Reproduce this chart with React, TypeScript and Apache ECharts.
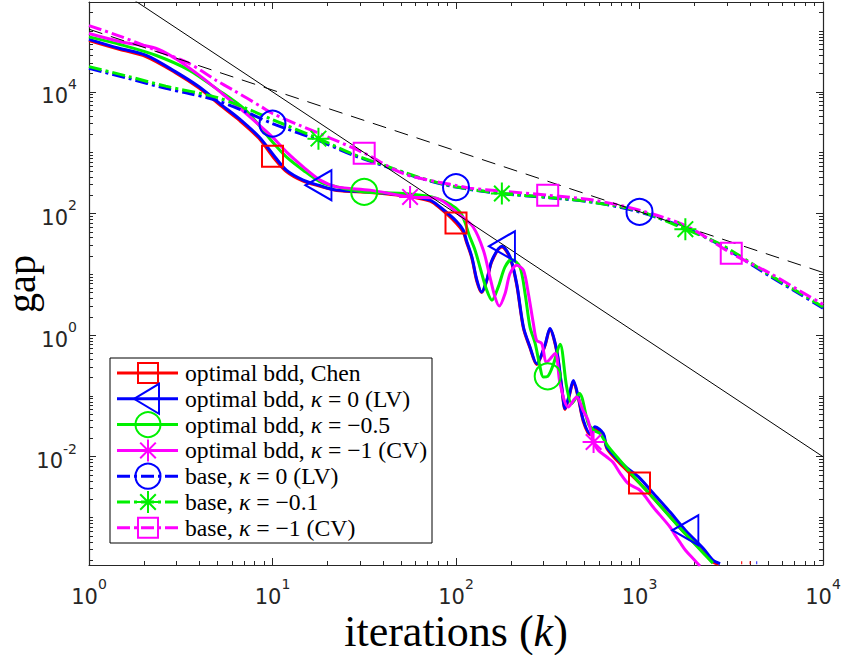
import { useEffect, useRef } from "react";
import * as echarts from "echarts";

// ---- iteration counts (k) and gap values, one pair of arrays per run ----

// optimal bdd, Chen
const chenK = [1, 1.46, 2.04, 2.97, 3.98, 5.31, 6.56, 8.44, 10, 11.9, 14.7, 17.8, 22.4, 34, 51.4, 72.1, 81.8, 100, 109.6, 114, 122, 130, 138, 147, 157, 178, 197, 214, 233, 253, 275, 305, 325, 354, 377, 393, 413, 436, 464, 494, 538, 572, 635, 663, 751, 851, 1000, 1189, 1468, 1778, 2228, 2512, 2700, 2900, 3580, 3630, 3700, 3980, 4030];
const chenGap = [7.0e4, 5.0e4, 3.8e4, 2.05e4, 1.15e4, 5.7e3, 3.45e3, 1.72e3, 870, 490, 340, 285, 238, 222, 196, 160, 122, 70, 49, 34, 18.5, 7.6, 5.0, 7.8, 16.5, 28, 18.5, 6.8, 1.3, 0.62, 0.33, 0.66, 1.25, 0.54, 0.135, 0.06, 0.097, 0.17, 0.092, 0.038, 0.023, 0.029, 0.023, 0.0138, 0.0088, 0.006, 0.0037, 0.0021, 0.00104, 5.4e-4, 2.7e-4, 1.85e-4, 1.7e-4, null, 1.8e-4, 1.8e-4, null, 1.8e-4, 1.8e-4];
const chenMarkK = [10, 100, 1000];

// optimal bdd, kappa = 0 (LV)
const lvK = [1, 1.46, 2.04, 2.97, 3.98, 5.31, 6.56, 8.44, 10, 11.9, 14.7, 17.8, 22.4, 34, 51.4, 72.1, 81.8, 100, 109.6, 114, 122, 130, 138, 147, 157, 178, 197, 214, 233, 253, 275, 305, 325, 354, 377, 393, 413, 436, 464, 494, 538, 572, 635, 663, 751, 851, 1000, 1189, 1468, 1778, 2228, 2512, 2750, 2900, 4330, 4380];
const lvGap = [7.3e4, 5.2e4, 4.0e4, 2.13e4, 1.21e4, 6.0e3, 3.65e3, 1.82e3, 960, 515, 353, 292, 242, 226, 200, 166, 128, 76, 53, 36, 19.3, 8.0, 5.1, 8.0, 17, 29, 19.3, 7.1, 1.36, 0.64, 0.34, 0.68, 1.29, 0.56, 0.14, 0.062, 0.10, 0.18, 0.096, 0.040, 0.024, 0.031, 0.024, 0.0145, 0.0095, 0.0066, 0.0045, 0.0025, 0.00123, 6.2e-4, 3.1e-4, 2.0e-4, 1.75e-4, null, 1.8e-4, 1.8e-4];
const lvMarkK = [17.8, 178, 1778];

// optimal bdd, kappa = -0.5
const halfK = [1, 1.51, 2.31, 3.51, 4.9, 7.14, 10, 11.9, 14.7, 18.2, 22.4, 31.6, 51.4, 78.5, 105, 119, 127, 135, 147, 157, 170, 185, 201, 223, 238, 253, 270, 287, 299, 316, 338, 369, 401, 427, 470, 526, 565, 609, 673, 783, 1000, 1189, 1468, 1807, 2228, 2512, 2700, 4690, 4730, 4800, 4940, 4980];
const halfGap = [8.0e4, 5.9e4, 4.0e4, 2.28e4, 1.15e4, 5.0e3, 1.5e3, 853, 515, 331, 274, 226, 213, 177, 106, 41, 24.9, 13.2, 5.5, 3.75, 6.2, 13.2, 17.5, 13.2, 4.8, 1.36, 0.73, 0.30, 0.205, 0.21, 0.32, 0.71, 0.14, 0.075, 0.11, 0.035, 0.027, 0.024, 0.0149, 0.0087, 0.0037, 0.0021, 0.00102, 5.1e-4, 2.6e-4, 1.78e-4, null, 1.8e-4, 1.8e-4, null, 1.8e-4, 1.8e-4];
const halfMarkK = [31.6, 316];

// optimal bdd, kappa = -1 (CV)
const cvK = [1, 1.51, 2.31, 2.97, 3.98, 5.31, 6.82, 10, 11.9, 14.7, 18.2, 22.4, 34, 56.2, 78.5, 105, 124, 141, 153, 163, 172, 185, 197, 214, 233, 248, 264, 275, 293, 312, 347, 369, 409, 455, 492, 524, 562, 596, 663, 717, 783, 869, 1007, 1189, 1466, 1560, 1663, 1780, 1964, 2136];
const cvGap = [9.1e4, 6.6e4, 5.2e4, 3.5e4, 1.88e4, 9.4e3, 5.0e3, 1.8e3, 1.03e3, 583, 353, 274, 242, 187, 177, 94, 60, 24.9, 9.1, 4.25, 3.0, 4.8, 10.3, 14.1, 11.7, 4.8, 1.55, 0.82, 0.73, 0.36, 0.50, 0.16, 0.066, 0.096, 0.058, 0.040, 0.0175, 0.0128, 0.0099, 0.0081, 0.0054, 0.0036, 0.0028, 0.00148, 7.0e-4, 5.2e-4, 3.9e-4, 2.9e-4, 2.1e-4, 1.6e-4];
const cvMarkK = [56.2, 562];

// base, kappa = 0 (LV)
const baseLvK = [1, 1.65, 2.62, 3.51, 4.9, 7.14, 10, 16.6, 27.5, 41.9, 63.6, 100, 177, 317, 558, 1000, 1807, 2754, 5140, 7500, 10000];
const baseLvGap = [2.43e4, 1.66e4, 1.14e4, 9.4e3, 7.3e3, 4.7e3, 3.0e3, 1.73e3, 910, 583, 381, 271, 213, 182, 153, 106, 56.6, 30.1, 9.3, 4.7, 2.77];
const baseLvMarkK = [10, 100, 1000];

// base, kappa = -0.1
const baseMildK = [1, 1.65, 2.62, 4.9, 7.14, 10, 17.8, 27.5, 41.9, 63.6, 100, 177.8, 317, 558, 1000, 1778, 2754, 5140, 7500, 10000];
const baseMildGap = [2.6e4, 1.78e4, 1.24e4, 8.2e3, 5.4e3, 3.5e3, 1.7e3, 944, 600, 388, 275, 213, 185, 153, 109, 55.2, 31.3, 9.7, 4.9, 2.9];
const baseMildMarkK = [17.8, 177.8, 1778];

// base, kappa = -1 (CV)
const baseCvK = [1, 1.51, 2.31, 3.51, 4.9, 6.1, 8.77, 10, 14.1, 20.6, 31.6, 51.4, 78.7, 100, 119, 177.8, 316, 558, 1000, 1807, 3162, 5140, 7500, 10000];
const baseCvGap = [1.23e5, 8.0e4, 4.85e4, 2.93e4, 1.56e4, 1.07e4, 5.6e3, 4.4e3, 2.8e3, 1.74e3, 982, 455, 331, 290, 261, 233, 200, 166, 113, 61.8, 22.2, 10.4, 5.3, 3.2];
const baseCvMarkK = [31.6, 316, 3162];

// reference rates O(1/k) and O(1/k^2)
const refK = [1, 10000];
const refInvK = [1.07e5, 10.7];
const refInvK2 = [1.0e6, 1.0e-2];

// axis limits and labelled decades
const kLimits = [1, 10000];
const gapLimits = [1.66e-4, 3.0e5];
const xLabelExp = [0, 1, 2, 3, 4];
const yLabelExp = [-2, 0, 2, 4];

// legend entries
const legendLabels = [
  ["optimal bdd, Chen"],
  ["optimal bdd, ", "κ", " = 0 (LV)"],
  ["optimal bdd, ", "κ", " = −0.5"],
  ["optimal bdd, ", "κ", " = −1 (CV)"],
  ["base, ", "κ", " = 0 (LV)"],
  ["base, ", "κ", " = −0.1"],
  ["base, ", "κ", " = −1 (CV)"],
];

const RED = "#ff0000";
const BLUE = "#0000ff";
const GREEN = "#00f000";
const MAGENTA = "#ff00ff";
const AXIS = "#262626";
const DASH_DOT = [13, 4, 3, 4];
const SERIF = "Liberation Serif, serif";
const SANS = "DejaVu Sans, Liberation Sans, sans-serif";

const ASTERISK = "path://M0,-10L0,10M-10,0L10,0M-7.07,-7.07L7.07,7.07M-7.07,7.07L7.07,-7.07";

type Marker = "square" | "triangle" | "circle" | "asterisk";

const markerSymbol: Record<Marker, { symbol: string; size: number | number[]; rotate: number }> = {
  square: { symbol: "rect", size: 21, rotate: 0 },
  triangle: { symbol: "triangle", size: [30, 26], rotate: 90 },
  circle: { symbol: "circle", size: 26, rotate: 0 },
  asterisk: { symbol: ASTERISK, size: 22, rotate: 0 },
};

interface Run {
  k: number[];
  gap: (number | null)[];
  markK: number[];
  color: string;
  dashed: boolean;
  marker: Marker;
}

const runs: Run[] = [
  { k: chenK, gap: chenGap, markK: chenMarkK, color: RED, dashed: false, marker: "square" },
  { k: lvK, gap: lvGap, markK: lvMarkK, color: BLUE, dashed: false, marker: "triangle" },
  { k: halfK, gap: halfGap, markK: halfMarkK, color: GREEN, dashed: false, marker: "circle" },
  { k: cvK, gap: cvGap, markK: cvMarkK, color: MAGENTA, dashed: false, marker: "asterisk" },
  { k: baseLvK, gap: baseLvGap, markK: baseLvMarkK, color: BLUE, dashed: true, marker: "circle" },
  { k: baseMildK, gap: baseMildGap, markK: baseMildMarkK, color: GREEN, dashed: true, marker: "asterisk" },
  { k: baseCvK, gap: baseCvGap, markK: baseCvMarkK, color: MAGENTA, dashed: true, marker: "square" },
];

const lg = Math.log10;

function minorExponents(lo: number, hi: number, major: number[]) {
  const out: number[] = [];
  for (let d = Math.floor(lo); d <= Math.ceil(hi); d++) {
    for (let m = 1; m <= 9; m++) {
      const v = d + lg(m);
      if (v >= lo && v <= hi && !major.some((t) => Math.abs(t - v) < 1e-9)) out.push(v);
    }
  }
  return out;
}

const powerLabel = (v: number) => `{b|10}{s|${Math.round(v)}}`;
const tickRich = {
  b: { fontFamily: SANS, fontSize: 21, color: AXIS, lineHeight: 30, verticalAlign: "bottom" as const },
  s: { fontFamily: SANS, fontSize: 14, color: AXIS, lineHeight: 14, verticalAlign: "top" as const },
};

function buildSeries() {
  const list: any[] = runs.map((r, idx) => {
    const m = markerSymbol[r.marker];
    return {
      type: "line",
      name: `run${idx}`,
      xAxisIndex: 0,
      yAxisIndex: 0,
      data: r.k.map((k, i) => {
        const g = r.gap[i];
        const item: any = { value: [lg(k), g == null ? null : lg(g)] };
        if (!r.markK.includes(k)) item.symbol = "none";
        return item;
      }),
      symbol: m.symbol,
      symbolSize: m.size,
      symbolRotate: m.rotate,
      showSymbol: true,
      smooth: 0.3,
      clip: true,
      silent: true,
      lineStyle: { color: r.color, width: 3, type: r.dashed ? DASH_DOT : "solid", cap: "butt" },
      itemStyle: { color: "rgba(0,0,0,0)", borderColor: r.color, borderWidth: 2 },
      emphasis: { disabled: true },
    };
  });
  const ref = (vals: number[], dashed: boolean) => ({
    type: "line",
    xAxisIndex: 0,
    yAxisIndex: 0,
    data: refK.map((k, i) => [lg(k), lg(vals[i])]),
    symbol: "none",
    clip: true,
    silent: true,
    lineStyle: { color: "#000", width: 1, type: dashed ? [14, 9] : "solid" },
    emphasis: { disabled: true },
  });
  list.push(ref(refInvK, true), ref(refInvK2, false));
  return list;
}

function buildLegend() {
  const left = 110, top = 358, width = 322, height = 185;
  const rowY0 = 373, rowStep = 25.8;
  const lineX1 = 117, lineX2 = 178, mx = 148, textX = 185;
  const els: any[] = [
    { type: "rect", shape: { x: left, y: top, width, height }, style: { fill: "#fff", stroke: "#000", lineWidth: 1 }, z: 100 },
  ];
  runs.forEach((r, i) => {
    const y = rowY0 + i * rowStep;
    const stroke = { stroke: r.color, lineWidth: 2, fill: "none" };
    els.push({
      type: "line",
      shape: { x1: lineX1, y1: y, x2: lineX2, y2: y },
      style: { stroke: r.color, lineWidth: 3, lineDash: r.dashed ? DASH_DOT : null },
      z: 101,
    });
    if (r.marker === "square") {
      els.push({ type: "rect", shape: { x: mx - 10, y: y - 10, width: 20, height: 20 }, style: stroke, z: 102 });
    } else if (r.marker === "circle") {
      els.push({ type: "circle", shape: { cx: mx, cy: y, r: 12.5 }, style: stroke, z: 102 });
    } else if (r.marker === "triangle") {
      els.push({ type: "polygon", shape: { points: [[mx - 14, y], [mx + 11, y - 15], [mx + 11, y + 15]] }, style: stroke, z: 102 });
    } else {
      const a = 11, d = 7.8;
      [[0, -a, 0, a], [-a, 0, a, 0], [-d, -d, d, d], [-d, d, d, -d]].forEach(([x1, y1, x2, y2]) =>
        els.push({ type: "line", shape: { x1: mx + x1, y1: y + y1, x2: mx + x2, y2: y + y2 }, style: { stroke: r.color, lineWidth: 2 }, z: 102 })
      );
    }
    const parts = legendLabels[i];
    const text = parts.length === 1 ? `{n|${parts[0]}}` : `{n|${parts[0]}}{i|${parts[1]}}{n|${parts[2]}}`;
    els.push({
      type: "text",
      x: textX,
      y,
      z: 102,
      style: {
        text,
        verticalAlign: "middle",
        fill: "#000",
        rich: {
          n: { fontFamily: SERIF, fontSize: 23.7, fill: "#000" },
          i: { fontFamily: SERIF, fontSize: 23.7, fontStyle: "italic", fill: "#000" },
        },
      },
    });
  });
  return els;
}

// axis titles, placed under the x axis and left of the y axis
function buildTitles() {
  return [
    {
      type: "text",
      x: 456,
      y: 631,
      z: 50,
      style: {
        text: "{n|iterations (}{i|k}{n|)}",
        align: "center",
        verticalAlign: "middle",
        rich: {
          n: { fontFamily: SERIF, fontSize: 44, lineHeight: 38, fill: "#000" },
          i: { fontFamily: SERIF, fontSize: 44, lineHeight: 38, fontStyle: "italic", fill: "#000" },
        },
      },
    },
    {
      type: "text",
      x: 21,
      y: 284,
      rotation: Math.PI / 2,
      z: 50,
      style: {
        text: "gap",
        align: "center",
        verticalAlign: "middle",
        fontFamily: SERIF,
        fontSize: 40,
        lineHeight: 28,
        fill: "#000",
      },
    },
  ];
}

export default function App() {
  const ref = useRef<HTMLDivElement>(null);

  useEffect(() => {
    if (!ref.current) return;
    document.body.style.margin = "0";
    const chart = echarts.init(ref.current, null, { renderer: "svg" });

    const xMin = lg(kLimits[0]);
    const xMax = lg(kLimits[1]);
    const yMin = lg(gapLimits[0]);
    const yMax = lg(gapLimits[1]);
    const xMinor = minorExponents(xMin, xMax, xLabelExp);
    const yMinor = minorExponents(yMin, yMax, yLabelExp);

    const xAxisBase = { type: "value", min: xMin, max: xMax, splitLine: { show: false }, silent: true };
    const yAxisBase = { type: "value", min: yMin, max: yMax, splitLine: { show: false }, silent: true };
    const axisLine = { show: true, onZero: false, lineStyle: { color: AXIS, width: 1.2 } };
    const noLine = { show: false, onZero: false };
    const minorTick = (vals: number[]) => ({ show: true, inside: true, length: 4, customValues: vals, lineStyle: { color: AXIS } });
    const majorTick = (vals: number[]) => ({ show: true, inside: true, length: 7, customValues: vals, lineStyle: { color: AXIS } });

    const xAxis = [
      {
        ...xAxisBase,
        position: "bottom",
        axisLine,
        axisTick: majorTick(xLabelExp),
        axisLabel: { show: true, customValues: xLabelExp, formatter: powerLabel, rich: tickRich, margin: 12 },
      },
      { ...xAxisBase, position: "bottom", axisLine: noLine, axisLabel: { show: false }, axisTick: minorTick(xMinor) },
      { ...xAxisBase, position: "top", axisLine, axisLabel: { show: false }, axisTick: majorTick(xLabelExp) },
      { ...xAxisBase, position: "top", axisLine: noLine, axisLabel: { show: false }, axisTick: minorTick(xMinor) },
    ];
    const yAxis = [
      {
        ...yAxisBase,
        position: "left",
        axisLine,
        axisTick: majorTick(yLabelExp),
        axisLabel: { show: true, customValues: yLabelExp, formatter: powerLabel, rich: tickRich, margin: 12 },
      },
      { ...yAxisBase, position: "left", axisLine: noLine, axisLabel: { show: false }, axisTick: minorTick(yMinor) },
      { ...yAxisBase, position: "right", axisLine, axisLabel: { show: false }, axisTick: majorTick(yLabelExp) },
      { ...yAxisBase, position: "right", axisLine: noLine, axisLabel: { show: false }, axisTick: minorTick(yMinor) },
    ];

    chart.setOption({
      animation: false,
      backgroundColor: "#fff",
      grid: { left: 89, right: 19, top: 2, bottom: 90, containLabel: false, outerBoundsMode: "none" },
      xAxis,
      yAxis,
      series: buildSeries(),
      graphic: { elements: [...buildTitles(), ...buildLegend()] },
    });

    return () => chart.dispose();
  }, []);

  return <div ref={ref} style={{ width: 842, height: 655 }} />;
}
